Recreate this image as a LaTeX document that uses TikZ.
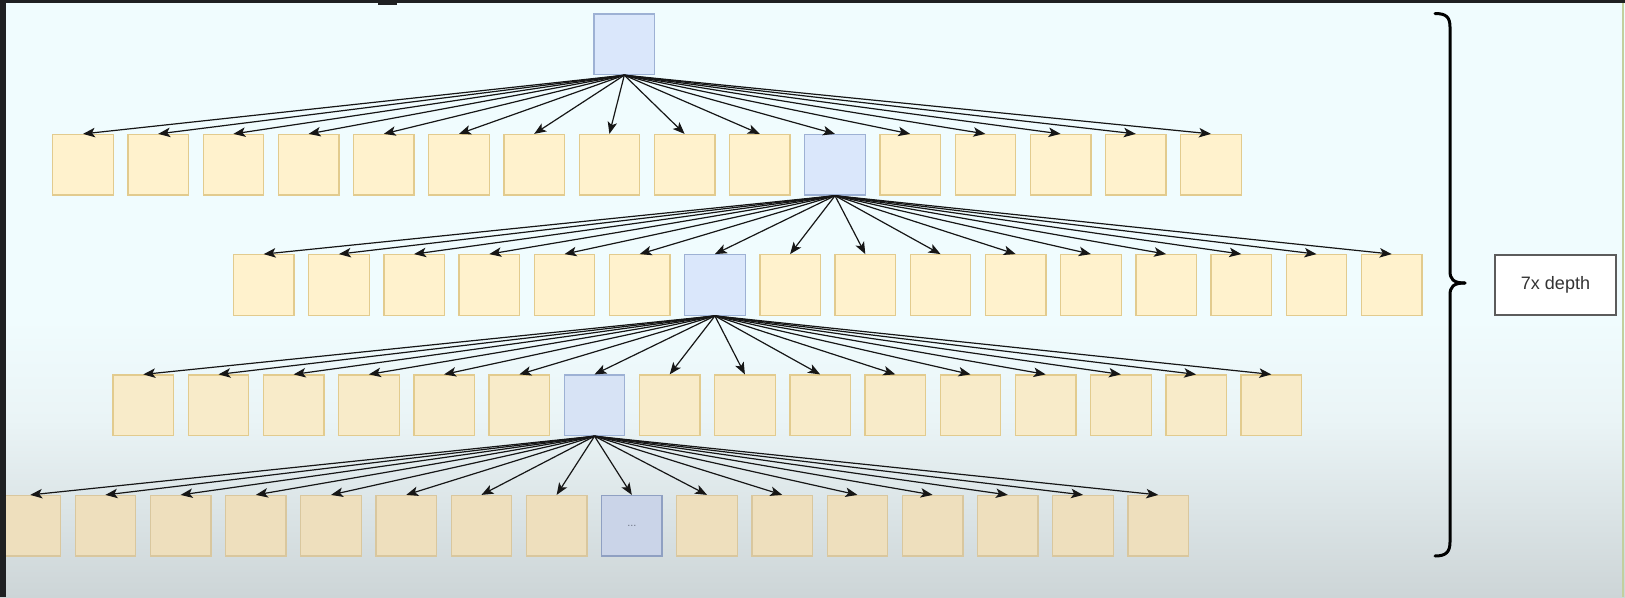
\documentclass[tikz,border=0pt]{standalone}
\usepackage{fontspec}
\setmainfont{Liberation Sans}
\usetikzlibrary{arrows.meta}
\definecolor{bgA}{HTML}{F0FCFE}
\definecolor{bgB}{HTML}{EAF4F6}
\definecolor{bgC}{HTML}{CDD5D7}
\definecolor{frame}{HTML}{1F2022}
\definecolor{oFillA}{HTML}{FFF2CD}
\definecolor{oFillC}{HTML}{F8EBC9}
\definecolor{oFillD}{HTML}{EEDFBD}
\definecolor{oLine}{HTML}{E2CB8E}
\definecolor{oLineD}{HTML}{D9C79E}
\definecolor{bFill}{HTML}{DAE7FB}
\definecolor{bFillC}{HTML}{D7E3F5}
\definecolor{bLine}{HTML}{9DB1D4}
\definecolor{dFill}{HTML}{CAD4E8}
\definecolor{dLine}{HTML}{8FA0C2}
\definecolor{arrowcol}{HTML}{161616}
\definecolor{greenedge}{HTML}{C3D09E}
\definecolor{dots}{HTML}{6E7585}
\definecolor{labeltext}{HTML}{333333}
\begin{document}
\begin{tikzpicture}[x=1pt,y=-1pt,
  box/.style={minimum width=60.5pt,minimum height=60.5pt,inner sep=0pt,line width=1.3pt},
  obox/.style={box,fill=oFillA,draw=oLine},
  bbox/.style={box,fill=bFill,draw=bLine},
  edge/.style={line width=1.2pt,draw=arrowcol,-{Stealth[length=12pt,width=9.5pt,inset=3pt]}},
  brace/.style={line width=3pt,draw=black,line cap=round,line join=round},
  labelbox/.style={draw=labeltext!80,line width=1.5pt,fill=white,minimum width=121pt,minimum height=60pt,inner sep=0pt,text=labeltext,font=\fontsize{18}{20}\selectfont}
]
\useasboundingbox (0,0) rectangle (1625,597);
% background
\fill[bgA] (0,0) rectangle (1625,320);
\shade[top color=bgA,bottom color=bgB] (0,319.5) rectangle (1625,420);
\shade[top color=bgB,bottom color=bgC] (0,419.5) rectangle (1625,597);

% root
\node[bbox] (root) at (624.3,44.3) {};

% row 1
\foreach \i in {0,...,15}{
  \ifnum\i=10
    \node[bbox] (a\i) at ({83+75.2*\i},164.8) {};
  \else
    \node[obox] (a\i) at ({83+75.2*\i},164.8) {};
  \fi
}
% row 2
\foreach \i in {0,...,15}{
  \ifnum\i=6
    \node[bbox] (b\i) at ({263.7+75.2*\i},285) {};
  \else
    \node[obox] (b\i) at ({263.7+75.2*\i},285) {};
  \fi
}
% row 3
\foreach \i in {0,...,15}{
  \ifnum\i=6
    \node[bbox,fill=bFillC] (c\i) at ({143.3+75.2*\i},405.3) {};
  \else
    \node[obox,fill=oFillC] (c\i) at ({143.3+75.2*\i},405.3) {};
  \fi
}
% row 4
\foreach \i in {0,...,15}{
  \ifnum\i=8
    \node[box,fill=dFill,draw=dLine,text=dots,font=\fontsize{11}{11}\selectfont] (d\i) at ({30.25+75.2*\i},525.8) {...};
  \else
    \node[obox,fill=oFillD,draw=oLineD] (d\i) at ({30.25+75.2*\i},525.8) {};
  \fi
}

% edges
\foreach \i in {0,...,15}{
  \draw[edge] (root.south) -- (a\i.north);
  \draw[edge] (a10.south) -- (b\i.north);
  \draw[edge] (b6.south) -- (c\i.north);
  \draw[edge] (c6.south) -- (d\i.north);
}

% brace
\draw[brace] (1435,13.5) .. controls (1446,13.5) and (1450,17) .. (1450,27)
  -- (1450,271) .. controls (1450,279) and (1453,283) .. (1465,283);
\draw[brace] (1465,283) .. controls (1453,283) and (1450,287) .. (1450,295)
  -- (1450,542) .. controls (1450,552) and (1446,556) .. (1435,556);

% label
\node[labelbox] (depth) at (1555.5,285) {7x depth};

% screen frame
\fill[frame] (0,0) rectangle (1625,3);
\fill[frame] (0,0) rectangle (6,597);
\fill[frame] (378,0) rectangle (397,4.5);
\draw[greenedge,line width=1.5pt] (1622.8,3) -- (1622.8,597);
\end{tikzpicture}
\end{document}
